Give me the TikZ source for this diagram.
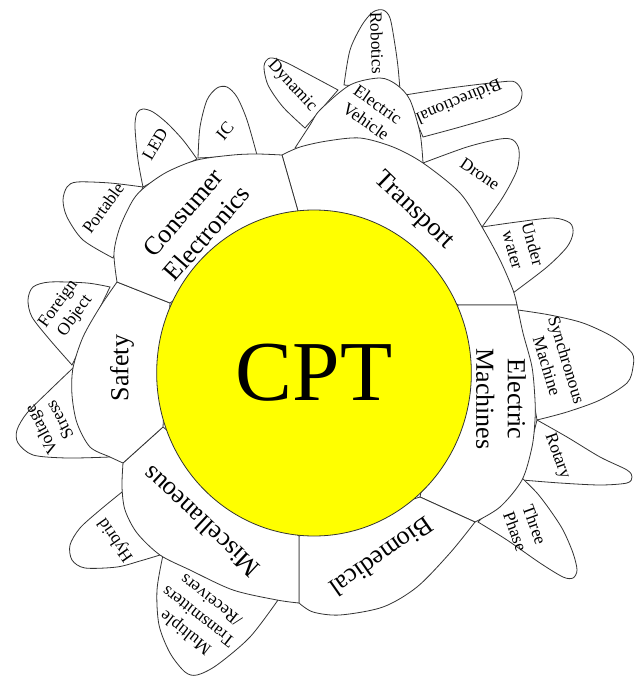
\documentclass[tikz,border=0pt]{standalone}
\usepackage{fontspec}
\setmainfont{Liberation Serif}
\usetikzlibrary{shapes.geometric}
\definecolor{cptyellow}{RGB}{255,255,0}

\begin{document}
\begin{tikzpicture}[x=0.75pt,y=-0.75pt,
  petal/.style={draw=black!80,fill=white,line width=0.6pt},
  sector/.style={draw=black!80,fill=white,line width=0.6pt},
  seglbl/.style={font=\fontsize{19.5}{23.5}\selectfont,align=center,inner sep=0pt},
  petlbl/.style={font=\fontsize{13}{15.5}\selectfont,align=center,inner sep=0pt}]
\useasboundingbox (0,0) rectangle (639,677);

% junctions of the ring
\coordinate (ctI) at (298,211); \coordinate (ctO) at (282,155);
\coordinate (teI) at (458,305); \coordinate (teO) at (517,305);
\coordinate (ebI) at (420,497); \coordinate (ebO) at (475,522);
\coordinate (bmI) at (299,536); \coordinate (bmO) at (299,603);
\coordinate (msI) at (163,427); \coordinate (msO) at (123,463);
\coordinate (scI) at (170,303); \coordinate (scO) at (117,282);

% petals on Electric Vehicle
\draw[petal] plot[smooth] coordinates {(305,128) (283,107) (268,85) (264,66) (270,58) (285,62) (310,75) (338,90)} -- cycle;
\draw[petal] plot[smooth] coordinates {(344,85) (350,50) (362,25) (373,12) (383,10) (390,18) (395,45) (398,67) (400,90)} -- cycle;
\draw[petal] plot[smooth] coordinates {(405,95) (450,88) (500,82) (515,82) (522,92) (518,105) (500,115) (460,127) (423,137)} -- cycle;

% petals on the ring
\draw[petal] plot[smooth] coordinates {(295,148) (310,125) (320,110) (350,85) (380,78) (397,85) (410,100) (420,133) (423,163)} -- cycle;
\draw[petal] plot[smooth] coordinates {(423,163) (467,147) (500,139) (513,140) (519,150) (517,170) (503,197) (482,227)} -- cycle;
\draw[petal] plot[smooth] coordinates {(482,227) (517,222) (553,218) (570,223) (573,233) (567,247) (547,267) (513,293)} -- cycle;
\draw[petal] plot[smooth] coordinates {(518,310) (550,315) (583,323) (613,337) (632,353) (633,367) (627,383) (600,400) (567,412) (537,420)} -- cycle;
\draw[petal] plot[smooth] coordinates {(537,420) (567,437) (600,457) (627,470) (632,477) (627,483) (600,485) (560,483) (522,480)} -- cycle;
\draw[petal] plot[smooth] coordinates {(522,478) (537,493) (550,510) (563,530) (573,553) (577,570) (573,578) (563,577) (540,563) (507,540) (478,522)} -- cycle;
\draw[petal] plot[smooth] coordinates {(278,600) (250,637) (217,665) (197,675) (185,672) (170,653) (159,625) (157,590) (163,555)} -- cycle;
\draw[petal] plot[smooth] coordinates {(160,555) (140,561) (117,567) (85,568) (72,560) (70,545) (80,528) (100,510) (122,492)} -- cycle;
\draw[petal] plot[smooth] coordinates {(110,457) (67,458) (33,455) (18,443) (17,430) (27,413) (50,390) (73,368)} -- cycle;
\draw[petal] plot[smooth] coordinates {(72,365) (50,340) (32,317) (28,300) (33,287) (50,282) (87,283) (110,287)} -- cycle;
\draw[petal] plot[smooth] coordinates {(113,258) (83,240) (67,217) (63,200) (67,187) (77,182) (110,183) (143,187)} -- cycle;
\draw[petal] plot[smooth] coordinates {(143,187) (138,160) (135,127) (137,113) (143,109) (153,112) (167,123) (183,140) (197,159)} -- cycle;
\draw[petal] plot[smooth] coordinates {(198,158) (200,127) (207,100) (217,88) (227,87) (237,97) (247,120) (257,155)} -- cycle;

% ring sectors
\draw[sector] (ctI) -- plot[smooth] coordinates {(ctO) (300,147) (327,141) (360,138) (393,147) (423,163) (460,193) (482,227) (500,260) (513,290) (teO)} -- (teI) -- cycle;
\draw[sector] (teI) -- plot[smooth] coordinates {(teO) (523,333) (532,367) (535,400) (535,420) (532,447) (522,480) (500,507) (ebO)} -- (ebI) -- cycle;
\draw[sector] (ebI) -- plot[smooth] coordinates {(ebO) (450,553) (417,587) (383,607) (340,615) (313,612) (bmO)} -- (bmI) -- cycle;
\draw[sector] (bmI) -- plot[smooth] coordinates {(bmO) (277,600) (233,590) (190,570) (160,555) (137,533) (125,510) (122,487) (msO)} -- (msI) -- cycle;
\draw[sector] (msI) -- plot[smooth] coordinates {(msO) (110,457) (90,447) (77,423) (72,395) (73,368) (83,337) (100,307) (scO)} -- (scI) -- cycle;
\draw[sector] (scI) -- plot[smooth] coordinates {(scO) (114,253) (120,227) (133,200) (145,187) (167,172) (197,160) (233,155) (257,154) (ctO)} -- (ctI) -- cycle;

% centre
\node[ellipse,draw=black!80,fill=cptyellow,line width=0.6pt,minimum width=236pt,minimum height=244.5pt,inner sep=0pt,
  font=\fontsize{64}{70}\selectfont] (cpt) at (314,373) {CPT};

% sector labels
\node[seglbl,rotate=49] (consumer) at (195,223) {Consumer\\Electronics};
\node[seglbl,rotate=-44] (transport) at (414,211) {Transport};
\node[seglbl,rotate=-90] (machines) at (501,399) {Electric\\Machines};
\node[seglbl,rotate=-145] (biomed) at (382,557) {Biomedical};
\node[seglbl,rotate=137] (misc) at (201,522) {Miscellaneous};
\node[seglbl,rotate=90] (safety) at (122,368) {Safety};

% petal labels
\node[petlbl,rotate=-35] (ev) at (372,113) {Electric\\Vehicle};
\node[petlbl,rotate=-47] (dynamic) at (292,86) {Dynamic};
\node[petlbl,rotate=-88] (robotics) at (377,43) {Robotics};
\node[petlbl,rotate=203] (bidir) at (459,102) {Bidirectional};
\node[petlbl,rotate=-34] (drone) at (480,174) {Drone};
\node[petlbl,rotate=-74] (underwater) at (523,247) {Under\\water};
\node[petlbl,rotate=-73] (sync) at (557,363) {Synchronous\\Machine};
\node[petlbl,rotate=-70] (rotary) at (557,456) {Rotary};
\node[petlbl,rotate=-70] (threeph) at (525,528) {Three\\Phase};
\node[petlbl,rotate=54] (portable) at (103,208) {Portable};
\node[petlbl,rotate=60] (led) at (155,144) {LED};
\node[petlbl,rotate=50] (ic) at (225,131) {IC};
\node[petlbl,rotate=54] (foreign) at (67,310) {Foreign\\Object};
\node[petlbl,rotate=118] (voltage) at (50,425) {Voltage\\Stress};
\node[petlbl,rotate=125] (hybrid) at (116,540) {Hybrid};
\node[petlbl,rotate=142] (multi) at (198,617) {Multiple\\Transmitters\\/Receivers};
\end{tikzpicture}
\end{document}
